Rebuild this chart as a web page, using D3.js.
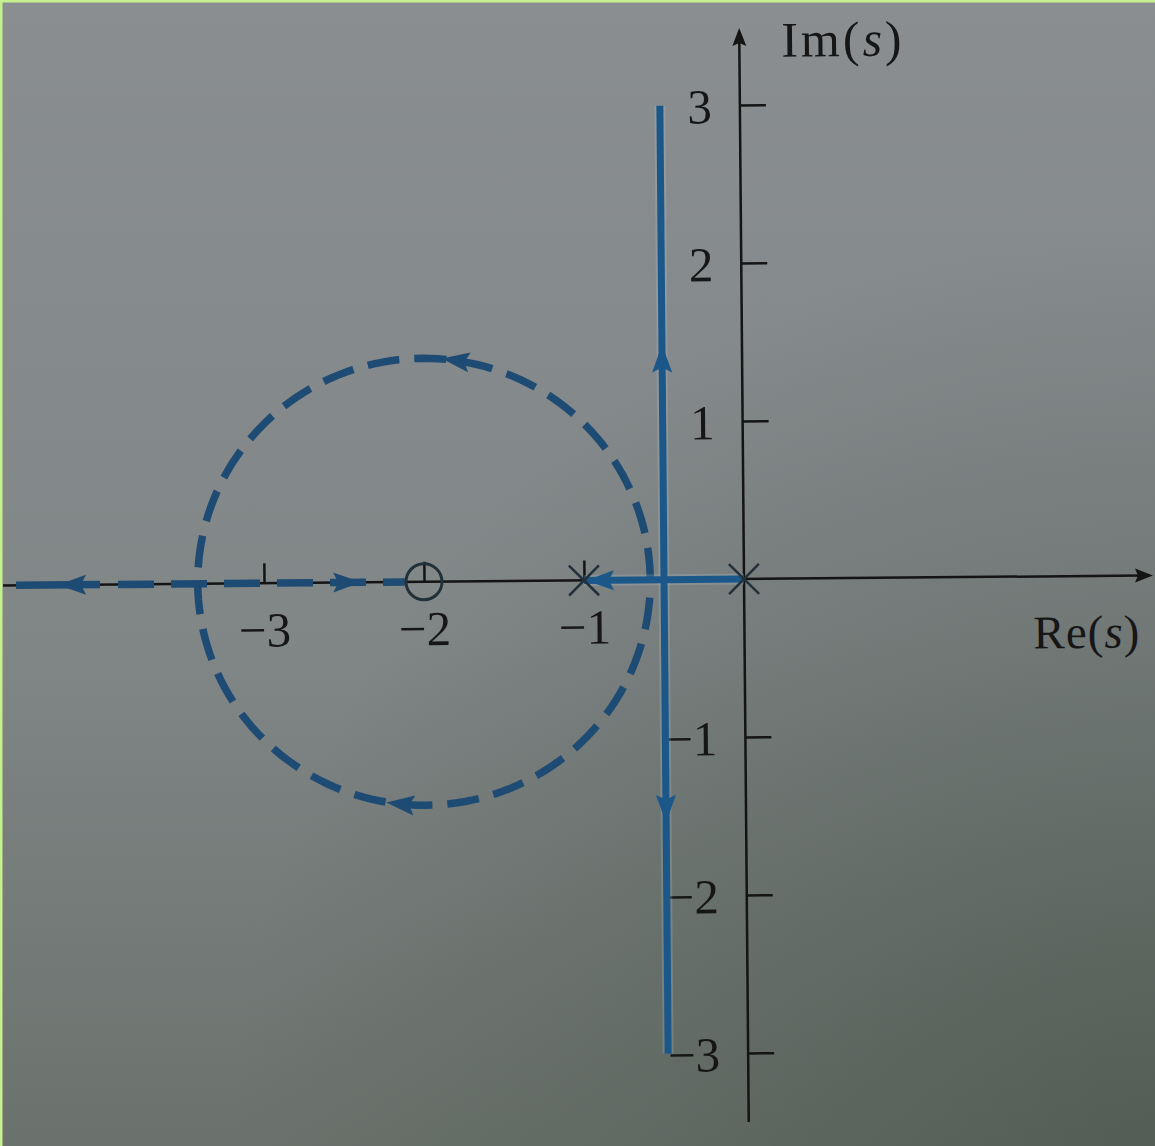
<!DOCTYPE html>
<html>
<head>
<meta charset="utf-8">
<script src="https://cdn.jsdelivr.net/npm/d3@7"></script>
<style>
  html, body { margin: 0; padding: 0; background: #7d8283; }
  svg { display: block; }
  text { font-family: "Liberation Serif", "DejaVu Serif", serif; fill: #161616; }
</style>
</head>
<body>
<script>
// Root locus on the s-plane
const xTicks = [-3, -2, -1];
const yTicks = [3, 2, 1, -1, -2, -3];
const poles = [0, -1];            // open-loop poles (×)
const zeros = [-2];               // open-loop zero (○)

// solid locus: segment between poles and the vertical branch at Re = -0.5
const solidSegments = [
  [[-1, 0], [0, 0]],
  [[-0.5, -3], [-0.5, 3]]
];
// dashed locus: real-axis branch toward the zero and the circle around it
const dashedSegments = [
  [[-4.55, 0], [-2.12, 0]]
];
const circleCenter = [-2, 0];
const circleRadius = Math.SQRT2;

// arrow positions [re, im] and direction [dRe, dIm]
const solidArrows = [
  { at: [-0.5, 1.4], dir: [0, 1] },
  { at: [-0.5, -1.45], dir: [0, -1] },
  { at: [-0.9, 0], dir: [-1, 0] }
];
const dashedArrows = [
  { at: [-4.2, 0], dir: [-1, 0] },
  { at: [-2.48, 0], dir: [1, 0] }
];
// arrows on the circle, by angle (degrees) and travel sense
const circleArrows = [
  { deg: 81.5, sense: 1 },
  { deg: -96.5, sense: -1 }
];

const W = 1155, H = 1146;
const svg = d3.select("body").append("svg").attr("width", W).attr("height", H);

// paper background
const defs = svg.append("defs");
const lg = defs.append("linearGradient").attr("id", "paper").attr("x1", 0).attr("y1", 0).attr("x2", 0).attr("y2", 1);
lg.append("stop").attr("offset", "0%").attr("stop-color", "#8a8e91");
lg.append("stop").attr("offset", "55%").attr("stop-color", "#818687");
lg.append("stop").attr("offset", "100%").attr("stop-color", "#6b726d");
const rg = defs.append("radialGradient").attr("id", "shade").attr("cx", 1).attr("cy", 1).attr("r", 0.8);
rg.append("stop").attr("offset", "0%").attr("stop-color", "#3e4d42").attr("stop-opacity", 0.55);
rg.append("stop").attr("offset", "100%").attr("stop-color", "#3e4d42").attr("stop-opacity", 0);
svg.append("rect").attr("width", W).attr("height", H).attr("fill", "url(#paper)");
svg.append("rect").attr("width", W).attr("height", H).attr("fill", "url(#shade)");
// light edge on top and left
svg.append("rect").attr("width", W).attr("height", 2.5).attr("fill", "#c6ef8e");
svg.append("rect").attr("width", 2.5).attr("height", H).attr("fill", "#c6ef8e");

const x = d3.scaleLinear().domain([-4.5, 2.5]).range([21, 1141]);
const y = d3.scaleLinear().domain([3, -3]).range([105, 1053]);
const ox = x(0), oy = y(0);

const g = svg.append("g").attr("transform", `translate(3,0) rotate(-0.5, ${ox}, ${oy})`);

// axes
const axisColor = "#141414";
g.append("line").attr("x1", 0).attr("x2", 1140).attr("y1", oy).attr("y2", oy)
  .attr("stroke", axisColor).attr("stroke-width", 2.5);
g.append("path").attr("d", `M1150,${oy} L1132,${oy - 7} L1135,${oy} L1132,${oy + 7} Z`).attr("fill", axisColor);
g.append("line").attr("x1", ox).attr("x2", ox).attr("y1", 1122).attr("y2", 40)
  .attr("stroke", axisColor).attr("stroke-width", 2.5);
g.append("path").attr("d", `M${ox},28 L${ox - 7},46 L${ox},43 L${ox + 7},46 Z`).attr("fill", axisColor);

const yAxis = d3.axisLeft(y).tickValues(yTicks).tickSize(-26).tickPadding(28)
  .tickFormat(d => d < 0 ? "\u2212" + Math.abs(d) : String(d));
const yg = g.append("g").attr("transform", `translate(${ox},0)`).call(yAxis);
yg.select(".domain").remove();
yg.selectAll(".tick line").attr("stroke", axisColor).attr("stroke-width", 2.5);
yg.selectAll(".tick text").attr("font-size", 49).attr("fill", "#161616")
  .attr("font-family", "Liberation Serif, serif").attr("dy", "0.36em");

const xAxis = d3.axisBottom(x).tickValues(xTicks).tickSize(-20).tickPadding(34)
  .tickFormat(d => "\u2212" + Math.abs(d));
const xg = g.append("g").attr("transform", `translate(0,${oy})`).call(xAxis);
xg.select(".domain").remove();
xg.selectAll(".tick line").attr("stroke", axisColor).attr("stroke-width", 2.5);
xg.selectAll(".tick text").attr("font-size", 49).attr("fill", "#161616")
  .attr("font-family", "Liberation Serif, serif").attr("dy", "0.6em");

// axis titles
const imT = g.append("text").attr("x", 783).attr("y", 57).attr("font-size", 50).attr("letter-spacing", 3);
imT.append("tspan").text("Im(");
imT.append("tspan").attr("font-style", "italic").text("s");
imT.append("tspan").text(")");
const reT = g.append("text").attr("x", 1030).attr("y", 651).attr("font-size", 47).attr("letter-spacing", 1);
reT.append("tspan").text("Re(");
reT.append("tspan").attr("font-style", "italic").text("s");
reT.append("tspan").text(")");

const line = d3.line().x(d => x(d[0])).y(d => y(d[1]));

// dashed locus
const dashColor = "#1e4b73";
const circlePts = d3.range(0, 361, 2).map(a => {
  const t = a * Math.PI / 180;
  return [circleCenter[0] + circleRadius * Math.cos(t), circleCenter[1] + circleRadius * Math.sin(t)];
});
g.append("path").attr("d", line(circlePts)).attr("fill", "none")
  .attr("stroke", dashColor).attr("stroke-width", 7.5).attr("stroke-dasharray", "32 15");
const axisDash = [84, 18].concat(d3.range(10).flatMap(() => [36, 17]));
dashedSegments.forEach(s => {
  g.append("path").attr("d", line(s)).attr("fill", "none")
    .attr("stroke", dashColor).attr("stroke-width", 7.5).attr("stroke-dasharray", axisDash.join(" "));
});

// solid locus
const solidColor = "#1c5789";
solidSegments.forEach(s => {
  g.append("path").attr("d", line(s)).attr("fill", "none")
    .attr("stroke", "rgba(190,210,225,0.2)").attr("stroke-width", 11);
});
solidSegments.forEach(s => {
  g.append("path").attr("d", line(s)).attr("fill", "none")
    .attr("stroke", solidColor).attr("stroke-width", 7);
});

// arrowheads
function arrow(p, dirScreen, color) {
  const len = Math.hypot(dirScreen[0], dirScreen[1]);
  const ux = dirScreen[0] / len, uy = dirScreen[1] / len;
  const L = 28, Wd = 10;
  const tip = [x(p[0]) + ux * L / 2, y(p[1]) + uy * L / 2];
  const base = [tip[0] - ux * L, tip[1] - uy * L];
  const pts = [tip, [base[0] - uy * Wd, base[1] + ux * Wd], [base[0] + ux * 5, base[1] + uy * 5], [base[0] + uy * Wd, base[1] - ux * Wd]];
  g.append("path").attr("d", "M" + pts.map(q => q.join(",")).join("L") + "Z").attr("fill", color);
}
solidArrows.forEach(a => arrow(a.at, [a.dir[0], -a.dir[1]], solidColor));
dashedArrows.forEach(a => arrow(a.at, [a.dir[0], -a.dir[1]], dashColor));
circleArrows.forEach(a => {
  const t = a.deg * Math.PI / 180;
  const p = [circleCenter[0] + circleRadius * Math.cos(t), circleCenter[1] + circleRadius * Math.sin(t)];
  arrow(p, [-Math.sin(t) * a.sense, -Math.cos(t) * a.sense], dashColor);
});

// poles and zero
const markColor = "#22303a";
poles.forEach(p => {
  const cx = x(p), cy = y(0), r = 15;
  g.append("path").attr("d", `M${cx - r},${cy - r}L${cx + r},${cy + r}M${cx - r},${cy + r}L${cx + r},${cy - r}`)
    .attr("stroke", markColor).attr("stroke-width", 2.5).attr("fill", "none");
});
zeros.forEach(z => {
  g.append("circle").attr("cx", x(z)).attr("cy", y(0)).attr("r", 18)
    .attr("fill", "none").attr("stroke", markColor).attr("stroke-width", 3);
});
</script>
</body>
</html>
